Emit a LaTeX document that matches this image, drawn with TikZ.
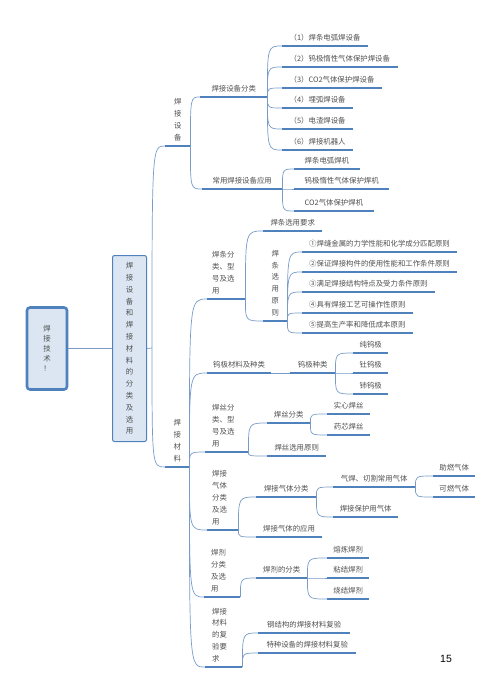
\documentclass[tikz,border=0pt]{standalone}
\usepackage{fontspec}
\setmainfont{Noto Sans CJK SC}
\newfontfamily\pagefont{Liberation Sans}
\definecolor{lineblue}{RGB}{79,129,189}
\definecolor{connblue}{RGB}{120,155,200}
\definecolor{boxfill}{RGB}{220,230,242}
\definecolor{textgray}{RGB}{80,80,80}
\tikzset{
  uline/.style={draw=lineblue, line width=1.9pt},
  conn/.style={draw=connblue, line width=0.7pt},
  topic/.style={anchor=south west, inner xsep=#1, inner ysep=5pt, text=textgray,
    font=\fontsize{7.4}{11.8}\selectfont,
    append after command={(\tikzlastnode.south west) edge[uline] (\tikzlastnode.south east)}},
  topic/.default=7pt,
  vtopic/.style={topic=0pt, align=center, minimum width=#1},
  block/.style={topic=5pt, align=left, text width=#1},
  mainbox/.style={draw=lineblue, fill=boxfill, align=center, text=textgray},
}

\begin{document}
\begin{tikzpicture}[x=1pt, y=-1pt]
  \useasboundingbox (0,0) rectangle (500,697);

  % root and central topic
  \node[mainbox, line width=2.6pt, rounded corners=3pt, minimum width=40pt, minimum height=82pt,
        font=\fontsize{7.4}{9.8}\selectfont] (root) at (47,348.5) {焊\\接\\技\\术\\！};
  \node[mainbox, line width=1pt, rounded corners=2pt, minimum width=34pt, minimum height=186pt,
        font=\fontsize{7.4}{11.8}\selectfont] (cat) at (129.5,348.5)
        {焊\\接\\设\\备\\和\\焊\\接\\材\\料\\的\\分\\类\\及\\选\\用};
  \coordinate (split) at (152,348);
  \draw[conn] (root.east) -- (cat.west);
  \draw[conn] (cat.east) -- (split);

  % main branches
  \node[vtopic=25pt] (equip) at (165,146) {焊\\接\\设\\备};
  \node[vtopic=24pt] (mat) at (165,467) {焊\\接\\材\\料};
  \foreach \kid in {equip, mat}
    \draw[conn] (split) .. controls (split |- \kid.south west) .. (\kid.south west);

  % welding equipment
  \node[topic=11.3pt] (eqcls) at (200,97) {焊接设备分类};
  \node[topic=10.4pt] (eqapp) at (202,189) {常用焊接设备应用};
  \foreach \kid in {eqcls, eqapp}
    \draw[conn] (equip.south east) .. controls (equip.south east |- \kid.south west) .. (\kid.south west);

  \node[topic=7.5pt] (e1) at (282,46) {（1）焊条电弧焊设备};
  \node[topic=7.5pt] (e2) at (282,67) {（2）钨极惰性气体保护焊设备};
  \node[topic=7.5pt] (e3) at (282,88) {（3）CO2气体保护焊设备};
  \node[topic=7.5pt] (e4) at (282,108) {（4）埋弧焊设备};
  \node[topic=7.5pt] (e5) at (282,129) {（5）电渣焊设备};
  \node[topic=7.5pt] (e6) at (282,150) {（6）焊接机器人};
  \foreach \kid in {e1,e2,e3,e4,e5,e6}
    \draw[conn] (eqcls.south east) .. controls (eqcls.south east |- \kid.south west) .. (\kid.south west);

  \node[topic=10.5pt] (a1) at (294,169) {焊条电弧焊机};
  \node[topic=10.5pt] (a2) at (294,189) {钨极惰性气体保护焊机};
  \node[topic=10.5pt] (a3) at (294,211) {CO2气体保护焊机};
  \foreach \kid in {a1,a2,a3}
    \draw[conn] (eqapp.south east) .. controls (eqapp.south east |- \kid.south west) .. (\kid.south west);

  % welding materials
  \node[block=28pt] (rod) at (207,299) {焊条分\\类、型\\号及选\\用};
  \node[topic=6pt] (tung) at (207,373) {钨极材料及种类};
  \node[block=29pt, inner xsep=7pt] (wire) at (205,452) {焊丝分\\类、型\\号及选\\用};
  \node[block=21pt] (gas) at (207,530) {焊接\\气体\\分类\\及选\\用};
  \node[block=22pt, inner xsep=7pt] (flux) at (204,597) {焊剂\\分类\\及选\\用};
  \node[block=23pt, inner xsep=7pt] (recheck) at (205,667) {焊接\\材料\\的复\\验要\\求};
  \foreach \kid in {rod, tung, wire, gas, flux, recheck}
    \draw[conn] (mat.south east) .. controls (mat.south east |- \kid.south west) .. (\kid.south west);

  % electrodes
  \node[topic=7.3pt] (rodreq) at (263,231) {焊条选用要求};
  \node[vtopic=24pt] (rodpr) at (263,321) {焊\\条\\选\\用\\原\\则};
  \foreach \kid in {rodreq, rodpr}
    \draw[conn] (rod.south east) .. controls (rod.south east |- \kid.south west) .. (\kid.south west);

  \node[topic] (p1) at (302,252) {①焊缝金属的力学性能和化学成分匹配原则};
  \node[topic] (p2) at (302,272) {②保证焊接构件的使用性能和工作条件原则};
  \node[topic] (p3) at (302,292) {③满足焊接结构特点及受力条件原则};
  \node[topic] (p4) at (302,313) {④具有焊接工艺可操作性原则};
  \node[topic] (p5) at (302,333) {⑤提高生产率和降低成本原则};
  \foreach \kid in {p1,p2,p3,p4,p5}
    \draw[conn] (rodpr.south east) .. controls (rodpr.south east |- \kid.south west) .. (\kid.south west);

  % tungsten
  \node[topic=7.7pt] (tkind) at (290,373) {钨极种类};
  \draw[conn] (tung.south east) -- (tkind.south west);
  \node[topic=6.4pt] (t1) at (353,353) {纯钨极};
  \node[topic=6.4pt] (t2) at (353,373) {钍钨极};
  \node[topic=6.4pt] (t3) at (353,394) {铈钨极};
  \foreach \kid in {t1,t2,t3}
    \draw[conn] (tkind.south east) .. controls (tkind.south east |- \kid.south west) .. (\kid.south west);

  % wire
  \node[topic=6.7pt] (wcls) at (267,423) {焊丝分类};
  \node[topic=7.3pt] (wsel) at (267,456) {焊丝选用原则};
  \foreach \kid in {wcls, wsel}
    \draw[conn] (wire.south east) .. controls (wire.south east |- \kid.south west) .. (\kid.south west);
  \node[topic=6.7pt] (w1) at (327,414) {实心焊丝};
  \node[topic=6.7pt] (w2) at (327,435) {药芯焊丝};
  \foreach \kid in {w1, w2}
    \draw[conn] (wcls.south east) .. controls (wcls.south east |- \kid.south west) .. (\kid.south west);

  % gas
  \node[topic=7.8pt] (gcls) at (256,497) {焊接气体分类};
  \node[topic] (gapp) at (256,537) {焊接气体的应用};
  \foreach \kid in {gcls, gapp}
    \draw[conn] (gas.south east) .. controls (gas.south east |- \kid.south west) .. (\kid.south west);
  \node[topic=7.7pt] (g1) at (333,487) {气焊、切割常用气体};
  \node[topic=6.6pt] (g2) at (333,517) {焊接保护用气体};
  \foreach \kid in {g1, g2}
    \draw[conn] (gcls.south east) .. controls (gcls.south east |- \kid.south west) .. (\kid.south west);
  \node[topic=6.2pt] (g11) at (433,476) {助燃气体};
  \node[topic=6.2pt] (g12) at (433,497) {可燃气体};
  \foreach \kid in {g11, g12}
    \draw[conn] (g1.south east) .. controls (g1.south east |- \kid.south west) .. (\kid.south west);

  % flux
  \node[topic] (fcls) at (256,578) {焊剂的分类};
  \draw[conn] (flux.south east) .. controls (flux.south east |- fcls.south west) .. (fcls.south west);
  \node[topic=6.2pt] (f1) at (327,558) {熔炼焊剂};
  \node[topic=6.2pt] (f2) at (327,578) {粘结焊剂};
  \node[topic=6.2pt] (f3) at (327,599) {烧结焊剂};
  \foreach \kid in {f1,f2,f3}
    \draw[conn] (fcls.south east) .. controls (fcls.south east |- \kid.south west) .. (\kid.south west);

  % re-inspection
  \node[topic=9pt] (r1) at (258,633) {钢结构的焊接材料复验};
  \node[topic=8.3pt] (r2) at (258,653) {特种设备的焊接材料复验};
  \foreach \kid in {r1, r2}
    \draw[conn] (recheck.south east) .. controls (recheck.south east |- \kid.south west) .. (\kid.south west);

  \node[font=\pagefont\fontsize{10.5}{12}\selectfont] (page) at (446,659) {15};
\end{tikzpicture}
\end{document}
